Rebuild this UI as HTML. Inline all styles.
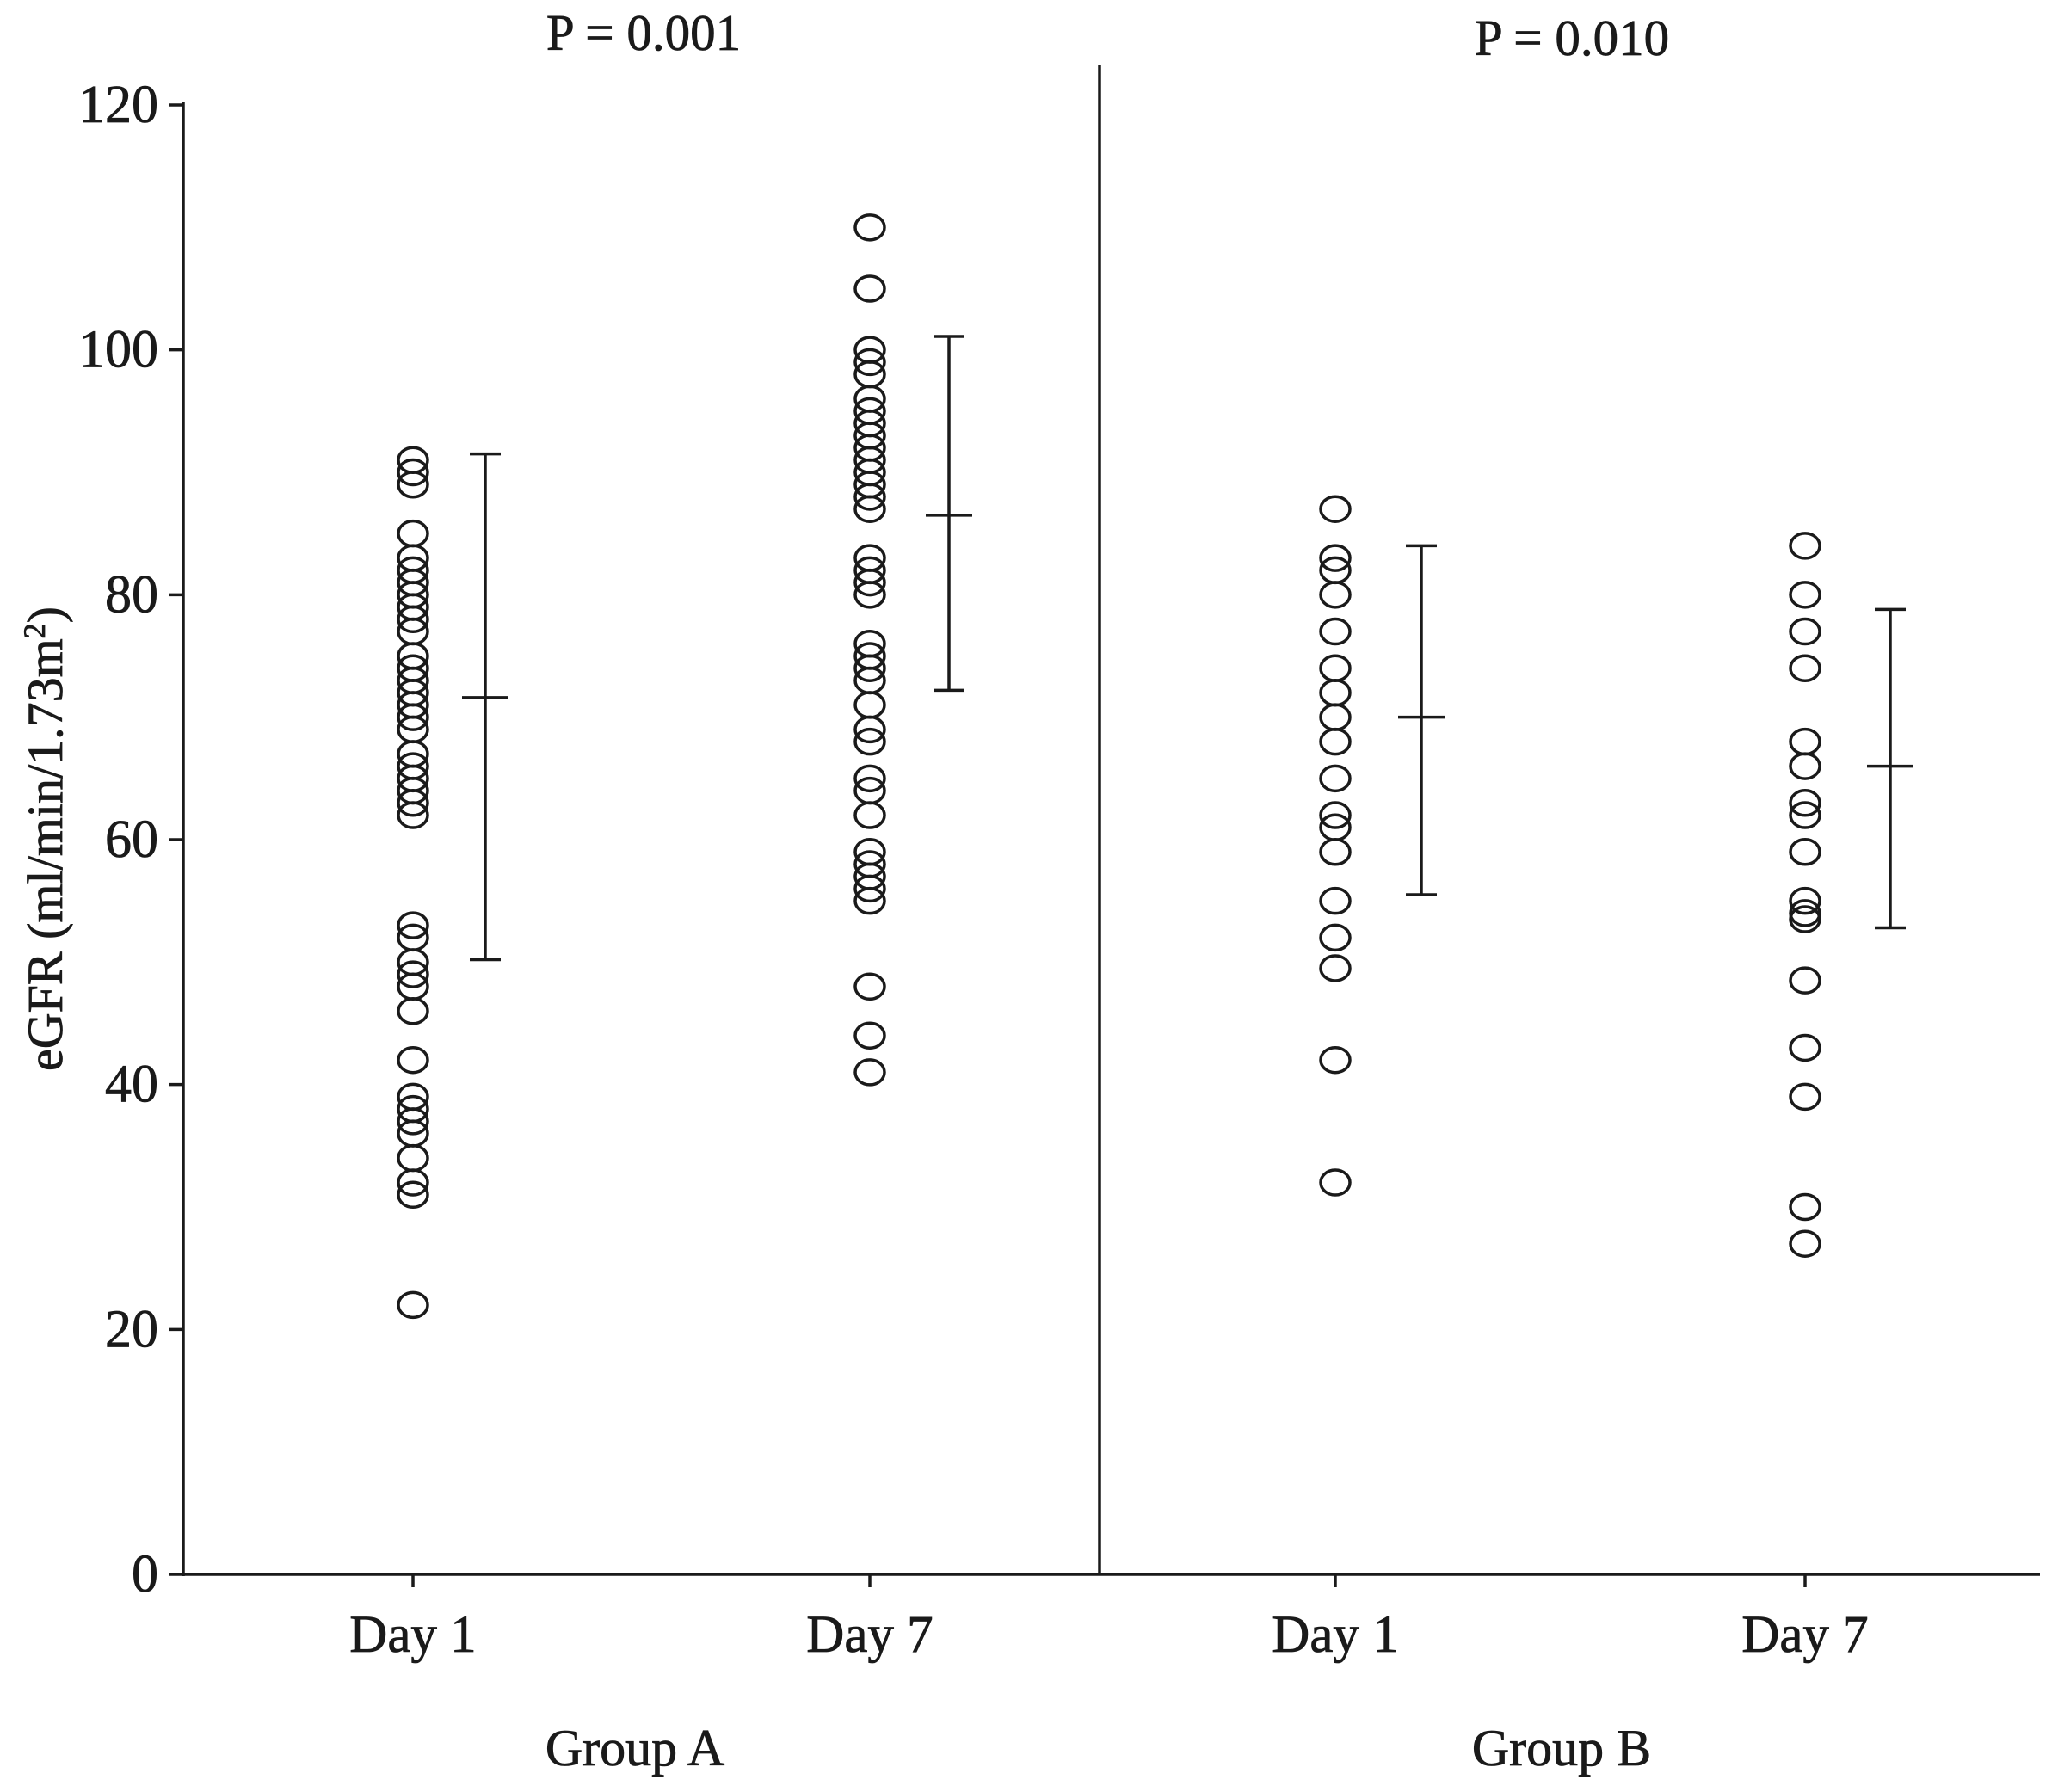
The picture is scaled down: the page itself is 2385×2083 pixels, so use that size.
<!DOCTYPE html>
<html><head><meta charset="utf-8"><style>
html,body{margin:0;padding:0;background:#fff}
svg text{font-family:"Liberation Serif",serif;fill:#1a1a1a;stroke:#1a1a1a;stroke-width:0.8}
</style></head><body>
<svg id="chart" width="2385" height="2078" viewBox="0 0 2385 2078" xmlns="http://www.w3.org/2000/svg"></svg>
<script>
const yTicks=[0,20,40,60,80,100,120];
const categories=["Day 1","Day 7","Day 1","Day 7"];
const groupLabels=["Group A","Group B"];
const pValues=["P = 0.001","P = 0.010"];
const groupADay1=[91,90,89,85,83,82,81,80,79,78,77,75,74,73,72,71,70,69,67,66,65,64,63,62,53,52,50,49,48,46,42,39,38,37,36,34,32,31,22];
const groupADay7=[110,105,100,99,98,96,95,94,93,92,91,90,89,88,87,83,82,81,80,76,75,74,73,71,69,68,65,64,62,59,58,57,56,55,48,44,41];
const groupBDay1=[87,83,82,80,77,74,72,70,68,65,62,61,59,55,52,49.5,42,32];
const groupBDay7=[84,80,77,74,68,66,63,62,59,55,54,53.5,48.5,43,39,30,27];
const means=[71.6,86.5,70,66];
const lows=[50.2,72.2,55.5,52.8];
const highs=[91.5,101.1,84,78.8];

const svg=document.getElementById('chart');
const NS='http://www.w3.org/2000/svg';
function el(t,a,p){const e=document.createElementNS(NS,t);for(const k in a)e.setAttribute(k,a[k]);(p||svg).appendChild(e);return e;}
const y=v=>1830-(v/120)*(1830-122);
const catX=[480,1011,1552,2098];
const barX=[564,1103,1652,2197];
const stroke='#1a1a1a';
const sw=3.5;

let ax=el('line',{x1:213,y1:118,x2:213,y2:1832,stroke:stroke,'stroke-width':sw});

let bx=el('line',{x1:211,y1:1830,x2:2371,y2:1830,stroke:stroke,'stroke-width':sw});

let dv=el('line',{x1:1278,y1:76,x2:1278,y2:1830,stroke:stroke,'stroke-width':sw});


yTicks.forEach(v=>{
  const t=el('line',{x1:196,y1:y(v),x2:213,y2:y(v),stroke:stroke,'stroke-width':sw});
  
  const tx=el('text',{x:184,y:y(v)+20,'text-anchor':'end','font-size':62});
  tx.textContent=v;
  
});
const yl=el('text',{x:0,y:0,'text-anchor':'middle','font-size':58,transform:'translate(72,975) rotate(-90)'});
yl.innerHTML='eGFR (ml/min/1.73m<tspan baseline-shift="super" font-size="36">2</tspan>)';


categories.forEach((c,i)=>{
  const t=el('line',{x1:catX[i],y1:1830,x2:catX[i],y2:1845,stroke:stroke,'stroke-width':sw});
  
  const tx=el('text',{x:catX[i],y:1920,'text-anchor':'middle','font-size':61});
  tx.textContent=c;
  
});
const gX=[738,1815];
groupLabels.forEach((g,i)=>{
  const tx=el('text',{x:gX[i],y:2052,'text-anchor':'middle','font-size':60});
  tx.textContent=g;
  
});
const pX=[748,1827];
const pY=[58,64];
pValues.forEach((p,i)=>{
  const tx=el('text',{x:pX[i],y:pY[i],'text-anchor':'middle','font-size':59});
  tx.textContent=p;
  
});

const series=[groupADay1,groupADay7,groupBDay1,groupBDay7];
series.forEach((s,i)=>{
  s.forEach(v=>{
    const c=el('ellipse',{cx:catX[i],cy:y(v),rx:17,ry:14.5,fill:'none',stroke:stroke,'stroke-width':sw});
    
  });
});
means.forEach((m,i)=>{
  const g=el('g',{});
  
  el('line',{x1:barX[i],y1:y(highs[i]),x2:barX[i],y2:y(lows[i]),stroke:stroke,'stroke-width':sw},g);
  el('line',{x1:barX[i]-18,y1:y(highs[i]),x2:barX[i]+18,y2:y(highs[i]),stroke:stroke,'stroke-width':sw},g);
  el('line',{x1:barX[i]-18,y1:y(lows[i]),x2:barX[i]+18,y2:y(lows[i]),stroke:stroke,'stroke-width':sw},g);
  el('line',{x1:barX[i]-27,y1:y(m),x2:barX[i]+27,y2:y(m),stroke:stroke,'stroke-width':sw},g);
});
</script>
</body></html>
